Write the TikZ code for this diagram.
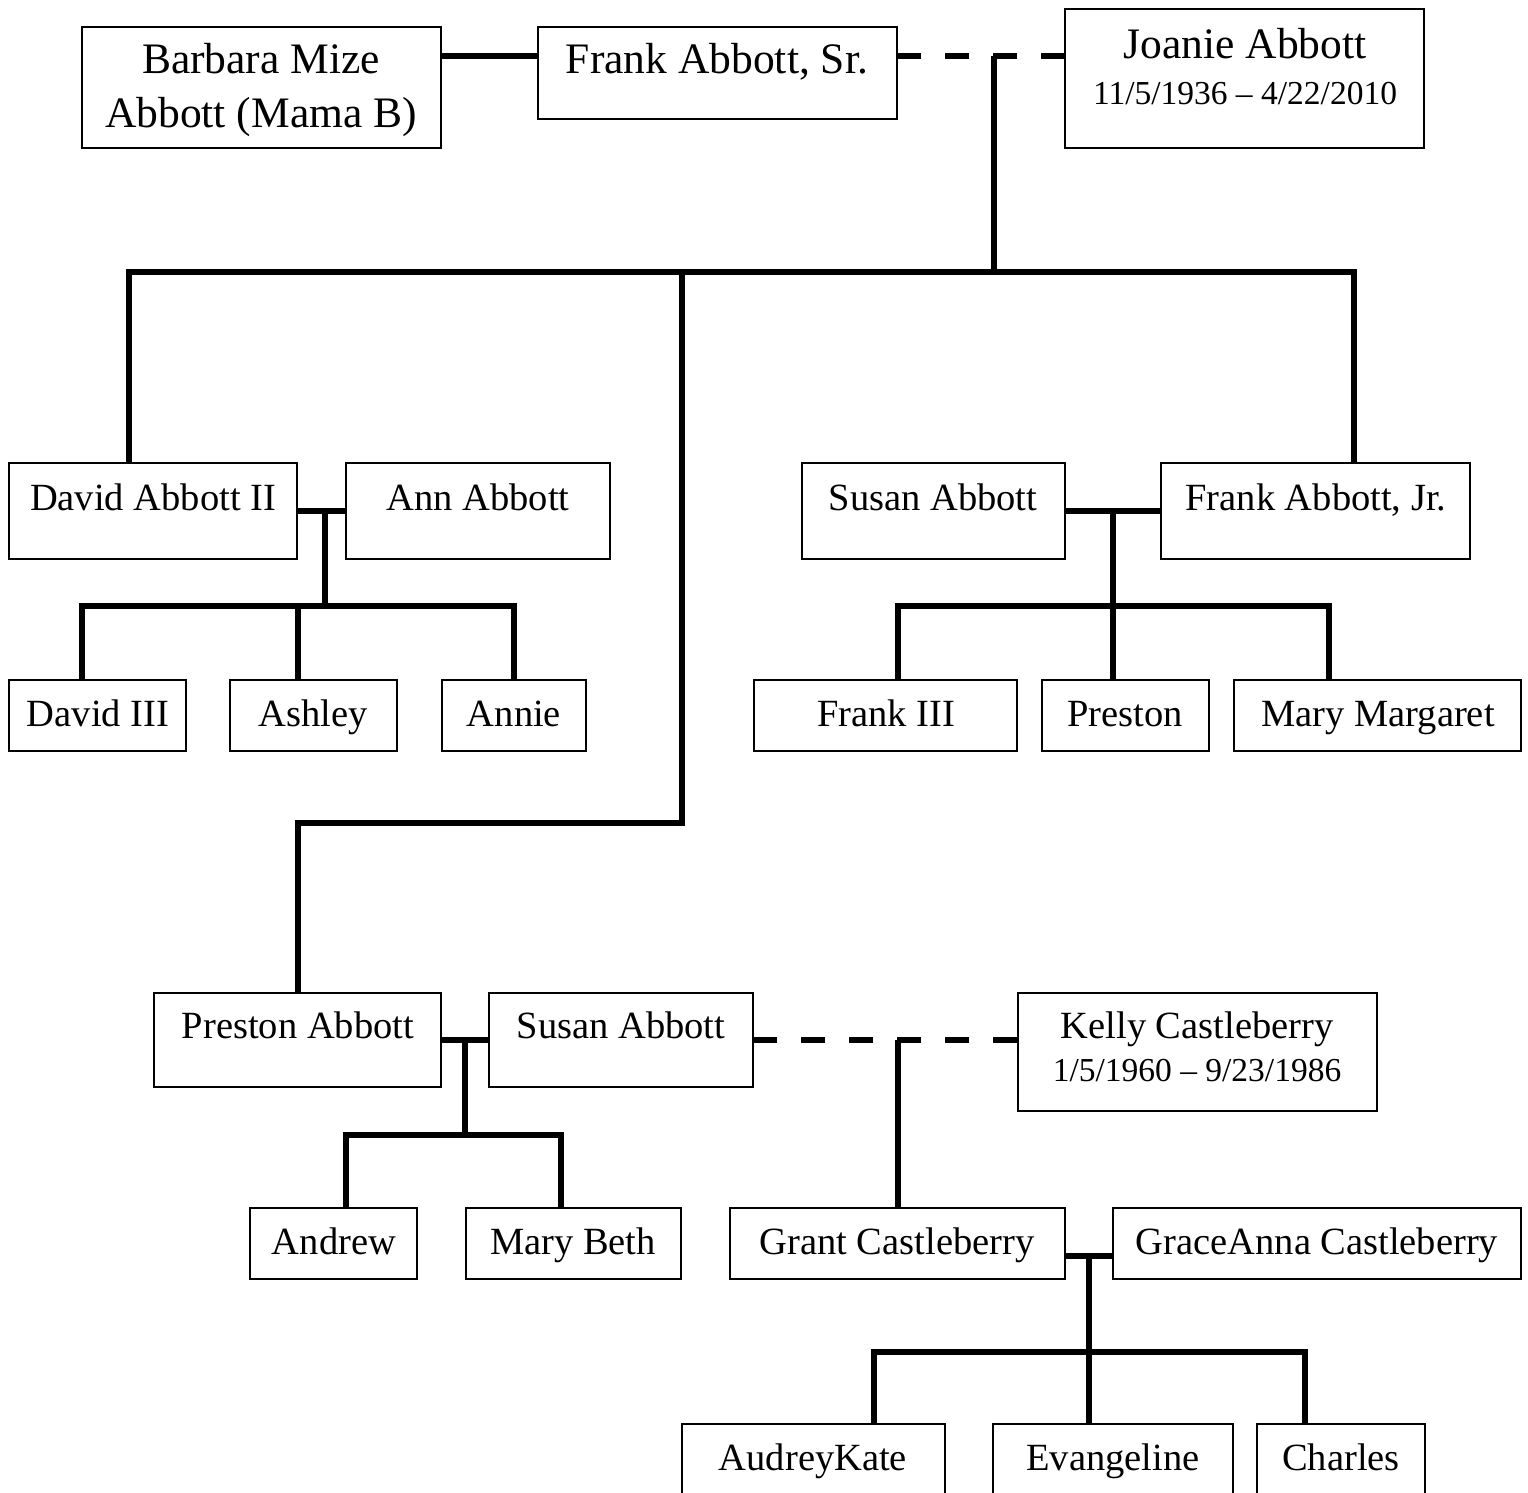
\documentclass[tikz,border=0pt]{standalone}
\usepackage{fontspec}
\setmainfont{Liberation Serif}
\usetikzlibrary{calc}
\newcommand\bigtxt{\fontsize{43.5}{50}\selectfont}
\newcommand\medtxt{\fontsize{38.5}{46}\selectfont}
\newcommand\datetxt{\fontsize{33.5}{40}\selectfont}
% name, x1, y1, x2, y2
\newcommand\pbox[5]{\node[pbox, minimum width={#4-#2}, minimum height={#5-#3}] (#1) at ({(#2+#4)/2},{(#3+#5)/2}) {};}
\tikzset{
  pbox/.style={draw, line width=1.8pt, inner sep=0pt, outer sep=0pt, rectangle},
  conn/.style={line width=5.5pt, line cap=butt, line join=miter},
  dconn/.style={conn, dash pattern=on 24pt off 24pt},
  lbl/.style={anchor=base, inner sep=0pt, font=\medtxt},
}
\begin{document}
\begin{tikzpicture}[x=1pt,y=-1pt]
\useasboundingbox[fill=white] (0,0) rectangle (1528,1493);
% ---- boxes
\pbox{barbara}{82}{27}{441}{148}
\pbox{franksr}{538}{27}{897}{119}
\pbox{joanie}{1065}{9}{1424}{148}
\pbox{david2}{9}{463}{297}{559}
\pbox{ann}{346}{463}{610}{559}
\pbox{susan1}{802}{463}{1065}{559}
\pbox{frankjr}{1161}{463}{1470}{559}
\pbox{david3}{9}{680}{186}{751}
\pbox{ashley}{230}{680}{397}{751}
\pbox{annie}{442}{680}{586}{751}
\pbox{frank3}{754}{680}{1017}{751}
\pbox{preston}{1042}{680}{1209}{751}
\pbox{marym}{1234}{680}{1521}{751}
\pbox{prestona}{154}{993}{441}{1087}
\pbox{susan2}{489}{993}{753}{1087}
\pbox{kelly}{1018}{993}{1377}{1111}
\pbox{andrew}{250}{1208}{417}{1279}
\pbox{marybeth}{466}{1208}{681}{1279}
\pbox{grant}{730}{1208}{1065}{1279}
\pbox{grace}{1113}{1208}{1521}{1279}
\pbox{audrey}{682}{1424}{945}{1520}
\pbox{evang}{993}{1424}{1233}{1520}
\pbox{charles}{1257}{1424}{1425}{1520}
% ---- texts
\node[lbl, font=\bigtxt] (barbara-t1) at (261,74) {Barbara Mize};
\node[lbl, font=\bigtxt] (barbara-t2) at (261,128) {Abbott (Mama B)};
\node[lbl, font=\bigtxt] (franksr-t) at (717,74) {Frank Abbott, Sr.};
\node[lbl, font=\bigtxt] (joanie-t) at (1245,59) {Joanie Abbott};
\node[lbl, font=\datetxt] (joanie-d) at (1245,105) {11/5/1936 – 4/22/2010};
\node[lbl] (david2-t) at (153,510) {David Abbott II};
\node[lbl] (ann-t) at (478,510) {Ann Abbott};
\node[lbl] (susan1-t) at (933,510) {Susan Abbott};
\node[lbl] (frankjr-t) at (1316,510) {Frank Abbott, Jr.};
\node[lbl] (david3-t) at (98,726) {David III};
\node[lbl] (ashley-t) at (313,726) {Ashley};
\node[lbl] (annie-t) at (514,726) {Annie};
\node[lbl] (frank3-t) at (886,726) {Frank III};
\node[lbl] (preston-t) at (1125,726) {Preston};
\node[lbl] (marym-t) at (1378,726) {Mary Margaret};
\node[lbl] (prestona-t) at (298,1038) {Preston Abbott};
\node[lbl] (susan2-t) at (621,1038) {Susan Abbott};
\node[lbl] (kelly-t) at (1197,1038) {Kelly Castleberry};
\node[lbl, font=\datetxt] (kelly-d) at (1197,1081) {1/5/1960 – 9/23/1986};
\node[lbl] (andrew-t) at (334,1254) {Andrew};
\node[lbl] (marybeth-t) at (573,1254) {Mary Beth};
\node[lbl] (grant-t) at (897,1254) {Grant Castleberry};
\node[lbl] (grace-t) at (1317,1254) {GraceAnna Castleberry};
\node[lbl] (audrey-t) at (813,1470) {AudreyKate};
\node[lbl] (evang-t) at (1113,1470) {Evangeline};
\node[lbl] (charles-t) at (1341,1470) {Charles};
% ---- connectors: generation 1
\coordinate (j1) at (994,56);
\draw[conn] (barbara.east |- 0,56) -- (franksr.west |- 0,56);
\draw[dconn] (franksr.east |- 0,56) -- (joanie.west |- 0,56);
\draw[conn] (j1) -- (994,272);
\draw[conn] (david2.north -| 129,0) -- (129,272) -- (1354,272) -- (frankjr.north -| 1354,0);
\draw[conn] (682,272) -- (682,823) -- (298,823) -- (prestona.north -| 298,0);
% ---- David + Ann
\draw[conn] (david2.east |- 0,511) -- (ann.west |- 0,511);
\draw[conn] (325,511) -- (325,606);
\draw[conn] (david3.north -| 82,0) -- (82,606) -- (514,606) -- (annie.north -| 514,0);
\draw[conn] (298,606) -- (ashley.north -| 298,0);
% ---- Susan + Frank Jr
\draw[conn] (susan1.east |- 0,511) -- (frankjr.west |- 0,511);
\draw[conn] (1113,511) -- (preston.north -| 1113,0);
\draw[conn] (frank3.north -| 898,0) -- (898,606) -- (1329,606) -- (marym.north -| 1329,0);
% ---- Preston + Susan
\draw[conn] (prestona.east |- 0,1040) -- (susan2.west |- 0,1040);
\draw[conn] (465,1040) -- (465,1135);
\draw[conn] (andrew.north -| 346,0) -- (346,1135) -- (561,1135) -- (marybeth.north -| 561,0);
% ---- Susan -- Kelly
\coordinate (k1) at (898,1040);
\draw[dconn] (susan2.east |- 0,1040) -- (kelly.west |- 0,1040);
\draw[conn] (k1) -- (grant.north -| 898,0);
% ---- Grant + GraceAnna
\draw[conn] (grant.east |- 0,1256) -- (grace.west |- 0,1256);
\draw[conn] (1089,1256) -- (evang.north -| 1089,0);
\draw[conn] (audrey.north -| 874,0) -- (874,1352) -- (1305,1352) -- (charles.north -| 1305,0);
\end{tikzpicture}
\end{document}
